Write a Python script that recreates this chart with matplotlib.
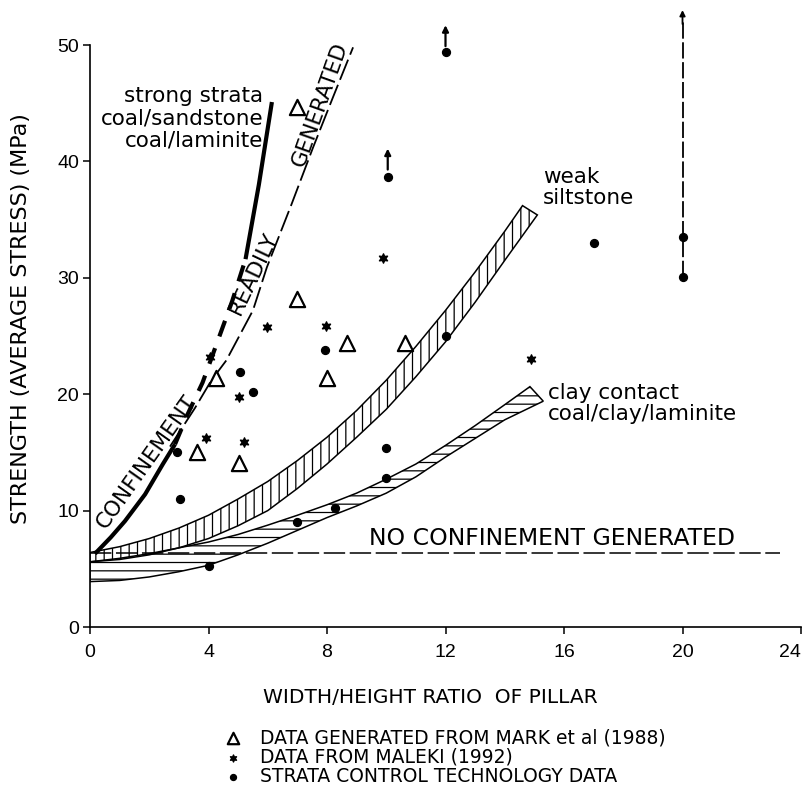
import matplotlib
matplotlib.use('Agg')
import matplotlib.pyplot as plt

plt.rcParams['font.family'] = ['DejaVu Sans']
plt.rcParams['hatch.linewidth'] = 0.9

# ---------------- data ----------------
mark_x = [7.0, 7.0, 8.67, 8.0, 4.25, 3.6, 5.03, 10.63]
mark_y = [44.7, 28.2, 24.4, 21.4, 21.4, 15.0, 14.1, 24.4]

maleki_x = [4.05, 5.97, 7.96, 5.03, 3.92, 5.2, 9.9, 14.9]
maleki_y = [23.2, 25.8, 25.9, 19.8, 16.2, 15.9, 31.7, 23.0]

sct_x = [5.06, 5.5, 7.93, 2.94, 3.04, 4.0, 7.0, 8.27, 10.0, 10.0, 12.0, 17.0, 20.0, 20.0, 12.0, 10.05]
sct_y = [21.9, 20.2, 23.8, 15.0, 11.0, 5.25, 9.0, 10.2, 12.8, 15.4, 25.0, 33.0, 33.5, 30.1, 49.4, 38.7]

# upward arrows (lower bound data)
arrow_x = [12.0, 10.05]
arrow_y0 = [49.9, 39.3]
arrow_y1 = [51.7, 41.1]
range_x = 20.0
range_y = [30.1, 53.0]

# strong strata curve
strong_x = [0.17, 0.7, 1.18, 1.86, 2.46, 2.87, 3.3, 3.8, 4.3, 4.8, 5.25, 5.7, 6.14]
strong_y = [6.3, 7.7, 9.1, 11.4, 14.0, 15.7, 18.3, 21.0, 24.5, 28.0, 31.6, 38.0, 45.1]

# confinement readily generated boundary
bound_x = [2.7, 3.54, 4.1, 4.6, 5.5, 5.97, 6.8, 7.53, 8.2, 8.88]
bound_y = [15.5, 18.8, 21.2, 22.9, 27.2, 30.9, 36.3, 41.2, 45.5, 49.8]

# weak siltstone band
silt_up_x = [0, 1, 2, 3, 4, 5, 6, 7, 8, 9, 10, 11, 12, 13, 14, 14.6]
silt_up_y = [6.4, 6.9, 7.6, 8.5, 9.6, 11.0, 12.5, 14.3, 16.3, 18.6, 21.2, 24.1, 27.2, 30.5, 34.0, 36.2]
silt_lo_x = [0, 1, 2, 3, 4, 5, 6, 7, 8, 9, 10, 11, 12, 13, 14, 15.1]
silt_lo_y = [5.6, 5.8, 6.2, 6.8, 7.6, 8.7, 10.0, 11.9, 14.0, 16.3, 18.7, 21.5, 24.5, 27.9, 31.5, 35.4]

# clay contact band
clay_up_x = [0, 1, 2, 3, 4, 5, 6, 7, 8, 9, 10, 11, 12, 13, 14, 14.85]
clay_up_y = [5.6, 5.9, 6.3, 6.8, 7.3, 7.95, 8.75, 9.6, 10.5, 11.5, 12.7, 14.0, 15.6, 17.3, 19.1, 20.65]
clay_lo_x = [0, 1, 2, 3, 4, 5, 6, 7, 8, 9, 10, 11, 12, 13, 14, 15.3]
clay_lo_y = [3.9, 4.0, 4.3, 4.75, 5.3, 6.2, 7.2, 8.3, 9.4, 10.4, 11.5, 12.9, 14.6, 16.2, 17.8, 19.4]

noconf_y = 6.35
noconf_x = [0, 23.3]

xticks = [0, 4, 8, 12, 16, 20, 24]
yticks = [0, 10, 20, 30, 40, 50]

legend_labels = ['DATA GENERATED FROM MARK et al (1988)',
                 'DATA FROM MALEKI (1992)',
                 'STRATA CONTROL TECHNOLOGY DATA']

# ---------------- figure ----------------
fig = plt.figure(figsize=(8.05, 8.08), dpi=100)
ax = fig.add_axes([90/805, 1-627/808, 711/805, 582/808])
ax.set_xlim(0, 24)
ax.set_ylim(0, 50)
for s in ['top', 'right']:
    ax.spines[s].set_visible(False)
for s in ['left', 'bottom']:
    ax.spines[s].set_linewidth(1.2)
ax.set_xticks(xticks)
ax.set_yticks(yticks)
ax.tick_params(direction='out', length=5, width=1.1, labelsize=14)
ax.tick_params(axis='x', pad=7)
ax.tick_params(axis='y', pad=3)
for lab in ax.get_xticklabels() + ax.get_yticklabels():
    lab.set_family(['Liberation Sans', 'DejaVu Sans'])
ax.get_xticklabels()[-1].set_horizontalalignment('right')

# bands
silt_poly_x = silt_up_x + silt_lo_x[::-1]
silt_poly_y = silt_up_y + silt_lo_y[::-1]
ax.fill(silt_poly_x, silt_poly_y, facecolor='white', edgecolor='black',
        hatch='||', linewidth=1.1, zorder=2)
clay_poly_x = clay_up_x + clay_lo_x[::-1]
clay_poly_y = clay_up_y + clay_lo_y[::-1]
ax.fill(clay_poly_x, clay_poly_y, facecolor='none', edgecolor='black',
        hatch='--', linewidth=1.1, zorder=2)

# no confinement line
ax.plot(noconf_x, [noconf_y, noconf_y], color='black', lw=1.1,
        ls=(0, (14, 3)), zorder=3)

# strong strata
ax.plot(strong_x[:6], strong_y[:6], color='black', lw=3, solid_capstyle='butt', zorder=3)
ax.plot(strong_x[5:11], strong_y[5:11], color='black', lw=3, ls=(0, (4, 3)), zorder=3)
ax.plot(strong_x[10:], strong_y[10:], color='black', lw=3, solid_capstyle='butt', zorder=3)

# boundary
ax.plot(bound_x, bound_y, color='black', lw=1.3, ls=(0, (12, 3)), zorder=3)

# data
tri = ax.scatter(mark_x, mark_y, marker='^', s=120, facecolors='white',
                 edgecolors='black', linewidths=1.6, zorder=5)
star = ax.scatter(maleki_x, maleki_y, marker=(6, 1, 0), s=45, color='black', zorder=5)
dot = ax.scatter(sct_x, sct_y, marker='o', s=32, color='black', zorder=5, clip_on=False)

for x, y0, y1 in zip(arrow_x, arrow_y0, arrow_y1):
    ax.annotate('', xy=(x, y1), xytext=(x, y0),
                arrowprops=dict(arrowstyle='-|>', color='black', lw=1.6,
                                mutation_scale=9, shrinkA=0, shrinkB=0),
                annotation_clip=False)
ax.plot([range_x, range_x], [range_y[0], range_y[1] - 1.0], color='black', lw=1.3,
        ls=(0, (9, 2)), clip_on=False, zorder=4)
ax.annotate('', xy=(range_x, range_y[1]), xytext=(range_x, range_y[1] - 1.2),
            arrowprops=dict(arrowstyle='-|>', color='black', lw=1.3,
                            mutation_scale=8, shrinkA=0, shrinkB=0),
            annotation_clip=False)

# annotations
ax.text(5.84, 43.7, 'strong strata\ncoal/sandstone\ncoal/laminite', ha='right',
        va='center', fontsize=15.5, linespacing=1.13)
ax.text(15.29, 37.75, 'weak\nsiltstone', ha='left', va='center', fontsize=15.5,
        linespacing=1.05)
ax.text(15.46, 19.2, 'clay contact\ncoal/clay/laminite', ha='left', va='center',
        fontsize=15.5, linespacing=1.05)
ax.text(9.42, 7.05, 'NO CONFINEMENT GENERATED', ha='left', va='baseline',
        fontsize=16.9)
ax.text(1.91, 14.2, 'CONFINEMENT', rotation=54.7, ha='center', va='center',
        fontsize=15.5, rotation_mode='anchor')
ax.text(5.5, 30.4, 'READILY', rotation=64.6, ha='center', va='center',
        fontsize=15.5, rotation_mode='anchor')
ax.text(7.76, 44.9, 'GENERATED', rotation=70.4, ha='center', va='center',
        fontsize=15.5, rotation_mode='anchor')

ax.set_ylabel('STRENGTH (AVERAGE STRESS) (MPa)', fontsize=16)
ax.yaxis.set_label_coords(-(90-31)/711, 0.53)
ax.set_xlabel('WIDTH/HEIGHT RATIO  OF PILLAR', fontsize=14.5)
ax.xaxis.set_label_coords((430-90)/711, -(688-627)/582)

fig.legend([tri, star, dot], legend_labels, loc='upper left',
           bbox_to_anchor=(212/805, 1-719/808), frameon=False, fontsize=13.5,
           handletextpad=0.85, labelspacing=0.02, borderpad=0, handlelength=1.2,
           markerscale=0.75)

fig.savefig('out.png', dpi=100)
